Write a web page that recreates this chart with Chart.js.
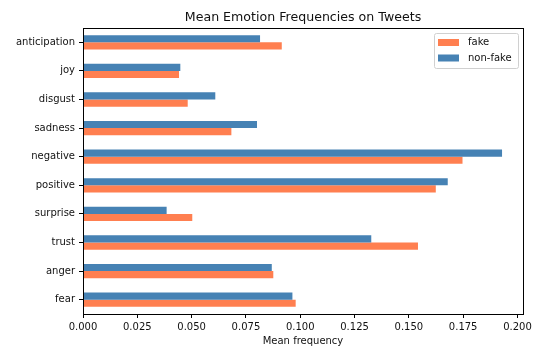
<!DOCTYPE html>
<html>
<head>
<meta charset="utf-8">
<script src="https://cdn.jsdelivr.net/npm/chart.js@4"></script>
<style>
  body { margin: 0; background: #fff; }
  canvas { display: block; }
</style>
</head>
<body>
<canvas id="myChart" width="537" height="347"></canvas>
<script>
// emotions, listed top to bottom as in the picture
const emotions = ["anticipation", "joy", "disgust", "sadness", "negative",
  "positive", "surprise", "trust", "anger", "fear"];
const fakeValues = [0.0915, 0.0442, 0.0482, 0.0683, 0.1747,
  0.1624, 0.0503, 0.1542, 0.0876, 0.0979];
const nonFakeValues = [0.0815, 0.0448, 0.0609, 0.0801, 0.1929,
  0.1679, 0.0385, 0.1327, 0.0869, 0.0964];
const seriesNames = ["fake", "non-fake"];
const seriesColors = ["#FF7F50", "#4682B4"];

const chartTitle = "Mean Emotion Frequencies on Tweets";
const xLabel = "Mean frequency";
const font = "'DejaVu Sans', sans-serif";

// frame, title, axis label and the boxed legend, drawn like matplotlib does
const decorations = {
  id: "decorations",
  afterDraw(chart) {
    const { ctx, chartArea: a } = chart;
    ctx.save();
    ctx.strokeStyle = "#000";
    ctx.lineWidth = 1;
    ctx.strokeRect(a.left + 0.5, a.top + 0.5, a.right - a.left, a.bottom - a.top);

    ctx.fillStyle = "#111";
    ctx.textAlign = "center";
    ctx.textBaseline = "middle";
    ctx.font = "12.6px " + font;
    ctx.fillText(chartTitle, (a.left + a.right) / 2, a.top - 10.5);
    ctx.font = "10px " + font;
    ctx.fillText(xLabel, (a.left + a.right) / 2, a.bottom + 27);

    // legend box in upper right
    const bx = a.right - 89, by = a.top + 5, bw = 84, bh = 35;
    ctx.beginPath();
    ctx.roundRect(bx + 0.5, by + 0.5, bw, bh, 2);
    ctx.fillStyle = "rgba(255,255,255,0.8)";
    ctx.fill();
    ctx.strokeStyle = "#d0d0d0";
    ctx.stroke();
    ctx.textAlign = "left";
    seriesNames.forEach((name, i) => {
      const cy = by + 9.5 + i * 15.5;
      ctx.fillStyle = seriesColors[i];
      ctx.fillRect(bx + 4, cy - 3.5, 21, 7);
      ctx.fillStyle = "#111";
      ctx.fillText(name, bx + 34, cy);
    });
    ctx.restore();
  },
};

const ctx = document.getElementById("myChart").getContext("2d");

const xMax = Math.max(...fakeValues, ...nonFakeValues) * 1.05;

const config = {
  type: "bar",
  data: {
    labels: emotions,
    datasets: [
      // non-fake sits above fake inside each group
      {
        label: seriesNames[1],
        data: nonFakeValues,
        backgroundColor: seriesColors[1],
        categoryPercentage: 0.5,
        barPercentage: 1.0,
      },
      {
        label: seriesNames[0],
        data: fakeValues,
        backgroundColor: seriesColors[0],
        categoryPercentage: 0.5,
        barPercentage: 1.0,
      },
    ],
  },
  options: {
    indexAxis: "y",
    responsive: false,
    animation: false,
    devicePixelRatio: 1,
    layout: { padding: { top: 28, right: 14, left: 0, bottom: 0 } },
    plugins: {
      legend: { display: false },
      title: { display: false },
      tooltip: { enabled: false },
    },
    scales: {
      x: {
        min: 0,
        max: xMax,
        afterFit(scale) { scale.height = 33; },
        grid: {
          drawOnChartArea: false,
          drawTicks: true,
          tickLength: 4,
          tickColor: "#000",
        },
        border: { display: true, color: "#000" },
        ticks: {
          stepSize: 0.025,
          includeBounds: false,
          autoSkip: false,
          maxRotation: 0,
          padding: 3,
          color: "#111",
          font: { family: font, size: 10 },
          callback: (value) => value.toFixed(3),
        },
      },
      y: {
        afterFit(scale) { scale.width = 83; },
        grid: {
          offset: false,
          drawOnChartArea: false,
          drawTicks: true,
          tickLength: 4,
          tickColor: "#000",
        },
        border: { display: true, color: "#000" },
        ticks: {
          padding: 4,
          color: "#111",
          font: { family: font, size: 10 },
        },
      },
    },
  },
  plugins: [decorations],
};

new Chart(ctx, config);
</script>
</body>
</html>
